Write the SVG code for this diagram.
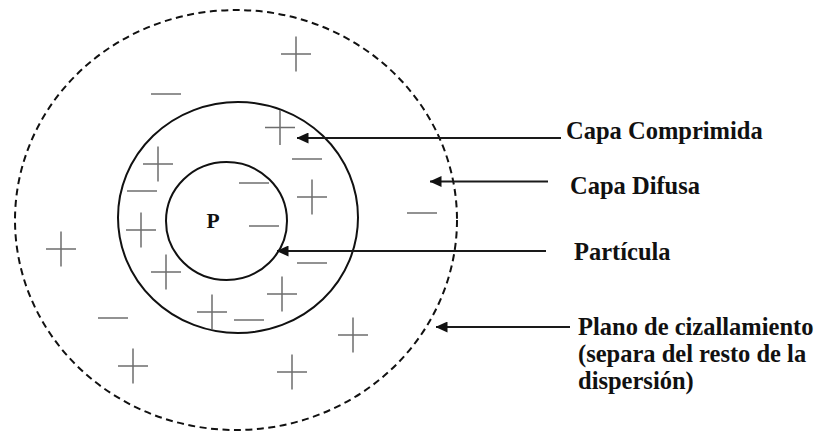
<svg xmlns="http://www.w3.org/2000/svg" xmlns:xlink="http://www.w3.org/1999/xlink" width="820" height="432" viewBox="0 0 820 432">
  <style>
    .ring { fill: none; stroke: #111; stroke-width: 2; }
    .shear { fill: none; stroke: #111; stroke-width: 2; stroke-dasharray: 7 4.5; }
    .charge { fill: none; stroke: #6e6e6e; stroke-width: 1.5; }
    .lead { fill: none; stroke: #1a1a1a; stroke-width: 2.2; }
    .label { font-family: "Liberation Serif", "Times New Roman", serif; font-weight: bold; font-size: 24.5px; fill: #111; }
    .core { font-family: "Liberation Serif", "Times New Roman", serif; font-weight: bold; font-size: 21.5px; fill: #111; }
  </style>
  <defs>
    <path id="plus" d="M-15 0H15M0 -17.5V17.5"/>
    <path id="minus" d="M-15 0H15"/>
    <!-- filled triangular head, tip on the end of the line -->
    <marker id="head" viewBox="0 0 12 11" refX="11.5" refY="5.5" markerWidth="12" markerHeight="11" markerUnits="userSpaceOnUse" orient="auto">
      <path d="M12 5.5 L0 0 L0 11 Z" fill="#111"/>
    </marker>
  </defs>
  <rect width="820" height="432" fill="#fff"/>

  <!-- shells -->
  <g id="plano-cizallamiento">
    <ellipse class="shear" cx="236" cy="220" rx="221" ry="210"/>
  </g>
  <g id="capa-comprimida">
    <ellipse class="ring" cx="238" cy="217.5" rx="120" ry="115.5"/>
  </g>
  <g id="particula">
    <ellipse class="ring" cx="226.5" cy="221" rx="60.5" ry="59"/>
    <text class="core" x="213" y="227.5" text-anchor="middle">P</text>
  </g>

  <!-- charges -->
  <g id="cargas" class="charge">
    <use xlink:href="#plus" x="296" y="54"/>
    <use xlink:href="#plus" x="280" y="127.5"/>
    <use xlink:href="#plus" x="158" y="164"/>
    <use xlink:href="#plus" x="312" y="197"/>
    <use xlink:href="#plus" x="141" y="230"/>
    <use xlink:href="#plus" x="61" y="249"/>
    <use xlink:href="#plus" x="166" y="272"/>
    <use xlink:href="#plus" x="282" y="294"/>
    <use xlink:href="#plus" x="212" y="312"/>
    <use xlink:href="#plus" x="353" y="335"/>
    <use xlink:href="#plus" x="133" y="366"/>
    <use xlink:href="#plus" x="292" y="372"/>

    <use xlink:href="#minus" x="166" y="94"/>
    <use xlink:href="#minus" x="307" y="159"/>
    <use xlink:href="#minus" x="254" y="183"/>
    <use xlink:href="#minus" x="142" y="191"/>
    <use xlink:href="#minus" x="422" y="213"/>
    <use xlink:href="#minus" x="264" y="226"/>
    <use xlink:href="#minus" x="312" y="263"/>
    <use xlink:href="#minus" x="113" y="318"/>
    <use xlink:href="#minus" x="249" y="320"/>
  </g>

  <!-- leader arrows -->
  <g id="connectors" class="lead">
    <path d="M561 138H297" marker-end="url(#head)"/>
    <path d="M548 181.5H430" marker-end="url(#head)"/>
    <path d="M546 251H277" marker-end="url(#head)"/>
    <path d="M570 327H436" marker-end="url(#head)"/>
  </g>

  <!-- labels -->
  <g id="label-capa-comprimida">
    <text class="label" x="566" y="138.5">Capa Comprimida</text>
  </g>
  <g id="label-capa-difusa">
    <text class="label" x="570" y="194">Capa Difusa</text>
  </g>
  <g id="label-particula">
    <text class="label" x="574" y="260">Partícula</text>
  </g>
  <g id="label-plano">
    <text class="label" x="578" y="335">Plano de cizallamiento</text>
    <text class="label" x="578" y="362">(separa del resto de la</text>
    <text class="label" x="578" y="389">dispersión)</text>
  </g>
</svg>
